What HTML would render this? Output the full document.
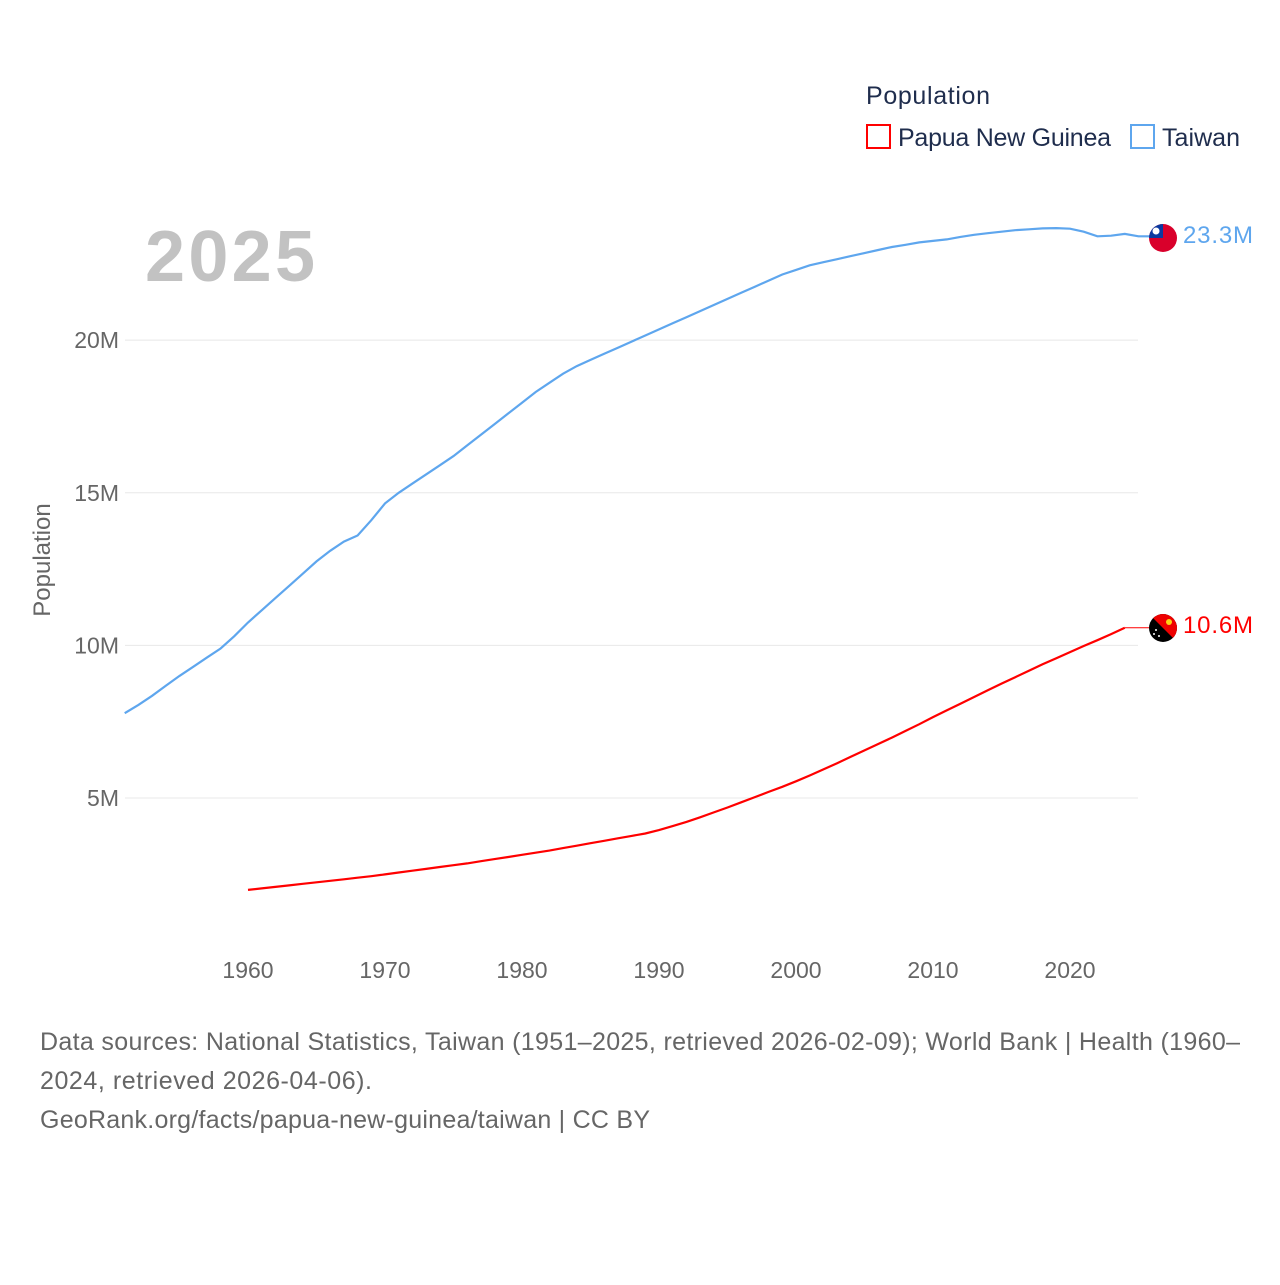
<!DOCTYPE html>
<html><head><meta charset="utf-8"><style>
body{margin:0;background:#fff;width:1280px;height:1280px;overflow:hidden;font-family:"Liberation Sans",sans-serif}
svg text{font-family:"Liberation Sans",sans-serif}
</style></head><body>
<svg width="1280" height="1280">
<text x="866" y="104" font-size="25" fill="#1f2d4d" textLength="124">Population</text>
<rect x="867" y="125" width="23" height="23" fill="none" stroke="#f00" stroke-width="2"/>
<text x="898" y="146" font-size="25" fill="#1f2d4d" textLength="213">Papua New Guinea</text>
<rect x="1131" y="125" width="23" height="23" fill="none" stroke="#5ea6ee" stroke-width="2"/>
<text x="1162" y="146" font-size="25" fill="#1f2d4d" textLength="78">Taiwan</text>
<text x="145" y="281" font-size="72" font-weight="bold" fill="#c2c2c2" textLength="170">2025</text>
<g id="grid"></g><g id="xt"></g>
<text transform="translate(50,560) rotate(-90)" text-anchor="middle" font-size="24" fill="#666">Population</text>
<path id="tw" fill="none" stroke="#5ea6ee" stroke-width="2.2"/>
<path id="png" fill="none" stroke="#f00" stroke-width="2.2"/>
<path id="pngc" fill="none" stroke="#f00" stroke-width="1"/>
<g>
<clipPath id="c1"><circle cx="1163" cy="238" r="14"/></clipPath>
<g clip-path="url(#c1)"><rect x="1149" y="224" width="28" height="28" fill="#d9002b"/><rect x="1149" y="224" width="14" height="14" fill="#0b3aa0"/><circle cx="1156" cy="231" r="3.5" fill="#fff"/></g></g>
<g>
<clipPath id="c2"><circle cx="1163" cy="628" r="14"/></clipPath>
<g clip-path="url(#c2)"><rect x="1149" y="614" width="28" height="28" fill="#000"/><polygon points="1149,614 1177,614 1177,642" fill="#e00"/><circle cx="1169" cy="622" r="3" fill="#fcd116"/><circle cx="1156" cy="630" r="1" fill="#fff"/><circle cx="1159" cy="636" r="1" fill="#fff"/><circle cx="1154" cy="634" r="1" fill="#fff"/></g></g>
<text x="1183" y="243" font-size="24" fill="#5ea6ee" textLength="70">23.3M</text>
<text x="1183" y="633" font-size="24" fill="#f00" textLength="70">10.6M</text>
<text font-size="25" fill="#666"><tspan x="40" y="1050" textLength="1200">Data sources: National Statistics, Taiwan (1951–2025, retrieved 2026-02-09); World Bank | Health (1960–</tspan><tspan x="40" y="1089" textLength="332">2024, retrieved 2026-04-06).</tspan><tspan x="40" y="1128" textLength="610">GeoRank.org/facts/papua-new-guinea/taiwan | CC BY</tspan></text>
</svg>
<script>
const twStart=1951;
const twValues=[7.78,8.05,8.35,8.68,9.0,9.3,9.6,9.9,10.3,10.75,11.15,11.55,11.95,12.35,12.75,13.1,13.4,13.6,14.1,14.65,15.0,15.3,15.6,15.9,16.2,16.55,16.9,17.25,17.6,17.95,18.3,18.6,18.9,19.15,19.35,19.55,19.75,19.95,20.15,20.35,20.55,20.75,20.95,21.15,21.35,21.55,21.75,21.95,22.15,22.3,22.45,22.55,22.65,22.75,22.85,22.95,23.05,23.12,23.2,23.25,23.3,23.38,23.45,23.5,23.55,23.6,23.63,23.66,23.67,23.65,23.55,23.4,23.42,23.48,23.4];
const pngStart=1960;
const pngValues=[1.99,2.04,2.09,2.14,2.19,2.24,2.29,2.34,2.39,2.44,2.50,2.56,2.62,2.68,2.74,2.80,2.86,2.93,3.00,3.07,3.14,3.21,3.28,3.36,3.44,3.52,3.60,3.68,3.76,3.84,3.95,4.08,4.22,4.37,4.53,4.69,4.86,5.03,5.20,5.37,5.55,5.74,5.94,6.14,6.35,6.56,6.77,6.98,7.20,7.42,7.65,7.87,8.09,8.31,8.53,8.75,8.96,9.17,9.38,9.58,9.78,9.98,10.17,10.37,10.58];
const yTicks=[5,10,15,20];
const xTicks=[1960,1970,1980,1990,2000,2010,2020];
const X=y=>248+(y-1960)*13.7, Y=v=>950.7-v*30.53;
const NS='http://www.w3.org/2000/svg';
const g=document.getElementById('grid'),xt=document.getElementById('xt');
yTicks.forEach(t=>{
 const l=document.createElementNS(NS,'line');
 l.setAttribute('x1',125);l.setAttribute('x2',1138);l.setAttribute('y1',Y(t));l.setAttribute('y2',Y(t));l.setAttribute('stroke','#e8e8e8');
 
 
 g.appendChild(l);
 const tx=document.createElementNS(NS,'text');
 tx.setAttribute('x',119);tx.setAttribute('y',Y(t)+8);tx.setAttribute('text-anchor','end');tx.setAttribute('font-size','23');tx.setAttribute('fill','#666');
 tx.textContent=t+'M';
 
 
 g.appendChild(tx);
});
xTicks.forEach(t=>{
 const tx=document.createElementNS(NS,'text');
 tx.setAttribute('x',X(t));tx.setAttribute('y',978);tx.setAttribute('text-anchor','middle');tx.setAttribute('font-size','23');tx.setAttribute('fill','#666');
 tx.textContent=t;
 
 
 xt.appendChild(tx);
});
const path=(s,vals)=>vals.map((v,i)=>(i?'L':'M')+X(s+i).toFixed(1)+','+Y(v).toFixed(1)).join('');
document.getElementById('tw').setAttribute('d',path(twStart,twValues)+'L1149,'+Y(twValues[twValues.length-1]).toFixed(1));
document.getElementById('png').setAttribute('d',path(pngStart,pngValues));
const ly=Y(pngValues[pngValues.length-1]).toFixed(1);
document.getElementById('pngc').setAttribute('d','M'+X(pngStart+pngValues.length-1)+','+ly+'L1149,'+ly);
</script>
</body></html>
